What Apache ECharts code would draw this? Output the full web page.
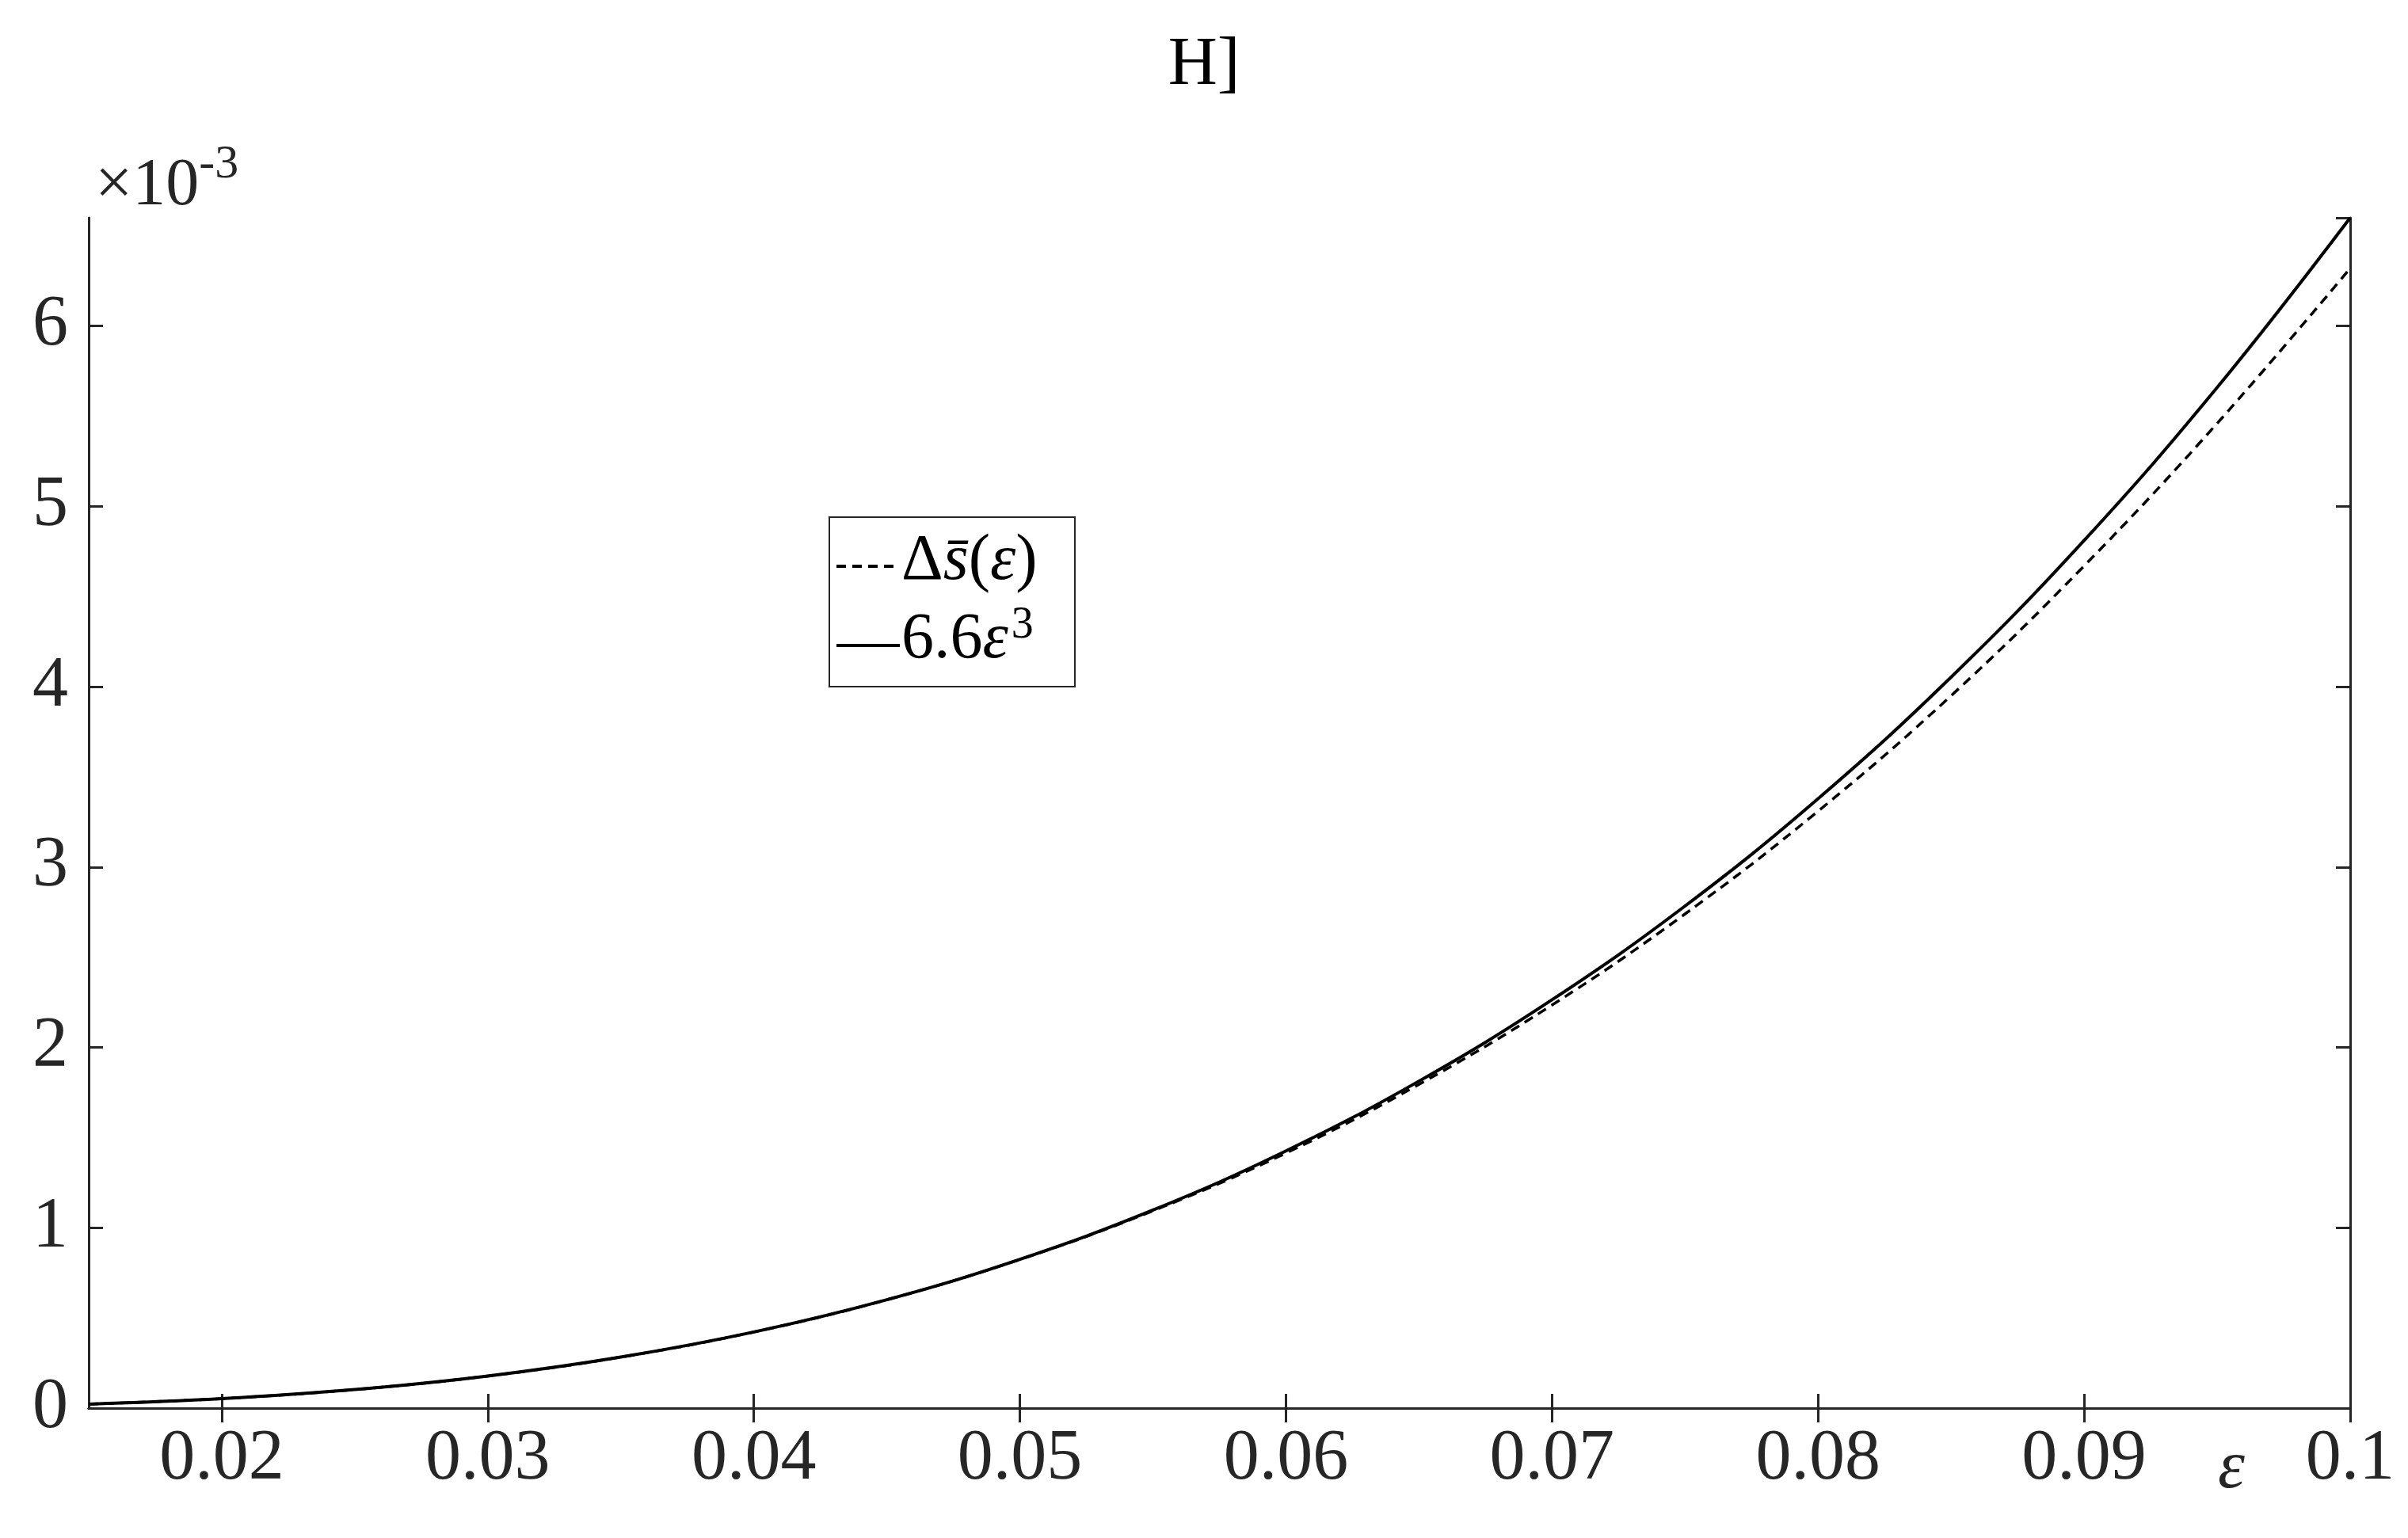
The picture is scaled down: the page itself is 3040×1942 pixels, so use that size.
<!DOCTYPE html>
<html><head><meta charset="utf-8">
<script src="https://cdn.jsdelivr.net/npm/echarts@6/dist/echarts.min.js"></script>
<style>html,body{margin:0;background:#fff}#c{width:3040px;height:1942px}</style>
</head><body><div id="c"></div>
<script>
var epsValues = [0.015,0.02,0.025,0.03,0.035,0.04,0.045,0.05,0.055,0.06,0.065,0.07,0.075,0.08,0.085,0.09,0.095,0.1];
// values in units of 1e-3
var deltaS = [0.0223,0.0528,0.103,0.178,0.283,0.422,0.601,0.824,1.094,1.414,1.795,2.235,2.74,3.31,3.95,4.67,5.46,6.32];
var fitCubic = [0.0223,0.0528,0.103,0.178,0.283,0.422,0.601,0.825,1.098,1.426,1.813,2.264,2.784,3.379,4.053,4.811,5.659,6.6];
var xTicks = [0.02,0.03,0.04,0.05,0.06,0.07,0.08,0.09,0.1];

var F = "'Times New Roman', 'Liberation Serif', Tinos, serif", C = "#262626";
var chart = echarts.init(document.getElementById("c"));
function pairs(v){ return epsValues.map(function(x,i){ return [x, v[i]]; }); }
var axLine = {show:true, lineStyle:{color:C, width:3}};
var tick = {show:true, inside:true, length:18, lineStyle:{color:C, width:3}, customValues:xTicks};
chart.setOption({
  animation:false,
  textStyle:{fontFamily:F},
  grid:{left:112, right:73, top:275, bottom:164},
  xAxis:[
    {type:"value", min:0.015, max:0.1, axisLine:axLine, splitLine:{show:false},
     axisTick:tick,
     axisLabel:{customValues:xTicks, color:C, fontFamily:F, fontSize:90, margin:20,
       formatter:function(v){ return String(+v.toFixed(2)); }}},
    {type:"value", min:0.015, max:0.1, position:"top", axisLine:axLine, splitLine:{show:false},
     axisTick:tick, axisLabel:{show:false}}
  ],
  yAxis:[
    {type:"value", min:0, max:6.6, interval:1, axisLine:axLine, splitLine:{show:false},
     axisTick:{show:true, inside:true, length:18, lineStyle:{color:C, width:3}},
     axisLabel:{color:C, fontFamily:F, fontSize:90, margin:26, showMaxLabel:false,
       formatter:function(v){ return v % 1 === 0 ? String(v) : ""; }}},
    {type:"value", min:0, max:6.6, interval:1, position:"right", axisLine:axLine, splitLine:{show:false},
     axisTick:{show:true, inside:true, length:18, lineStyle:{color:C, width:3}}, axisLabel:{show:false}}
  ],
  series:[
    {type:"line", data:pairs(deltaS), smooth:0.4, showSymbol:false,
     lineStyle:{color:"#000", width:3.5, type:[12,8]}},
    {type:"line", data:pairs(fitCubic), smooth:0.4, showSymbol:false,
     lineStyle:{color:"#000", width:4}}
  ],
  graphic:[
    {type:"text", left:"center", top:40, style:{text:"H]", font:"86px " + F, fill:"#000"}},
    {type:"text", left:120, top:178, style:{
      text:"{a|×10}{b|-3}", rich:{a:{font:"84px " + F, fill:C, verticalAlign:"bottom"},
      b:{font:"60px " + F, fill:C, verticalAlign:"top", padding:[0,0,40,0]}}}},
    {type:"text", left:2800, top:1812, style:{text:"ε", font:"italic 86px " + F, fill:C}},
    {type:"rect", shape:{x:1047, y:653, width:310, height:214}, style:{fill:"#fff", stroke:C, lineWidth:2}},
    {type:"line", shape:{x1:1056, y1:715, x2:1136, y2:715}, style:{stroke:"#000", lineWidth:4, lineDash:[12,8]}},
    {type:"line", shape:{x1:1056, y1:815, x2:1136, y2:815}, style:{stroke:"#000", lineWidth:4}},
    {type:"text", left:1138, top:668, style:{
      text:"{n|Δ}{i|s̄}{n|(}{i|ε}{n|)}", rich:{n:{font:"82px " + F, fill:"#000"},
      i:{font:"italic 82px " + F, fill:"#000"}}}},
    {type:"text", left:1138, top:762, style:{
      text:"{n|6.6}{i|ε}{s|3}", rich:{n:{font:"82px " + F, fill:"#000"},
      i:{font:"italic 82px " + F, fill:"#000"},
      s:{font:"56px " + F, fill:"#000", padding:[0,0,36,4]}}}}
  ]
});
</script></body></html>
